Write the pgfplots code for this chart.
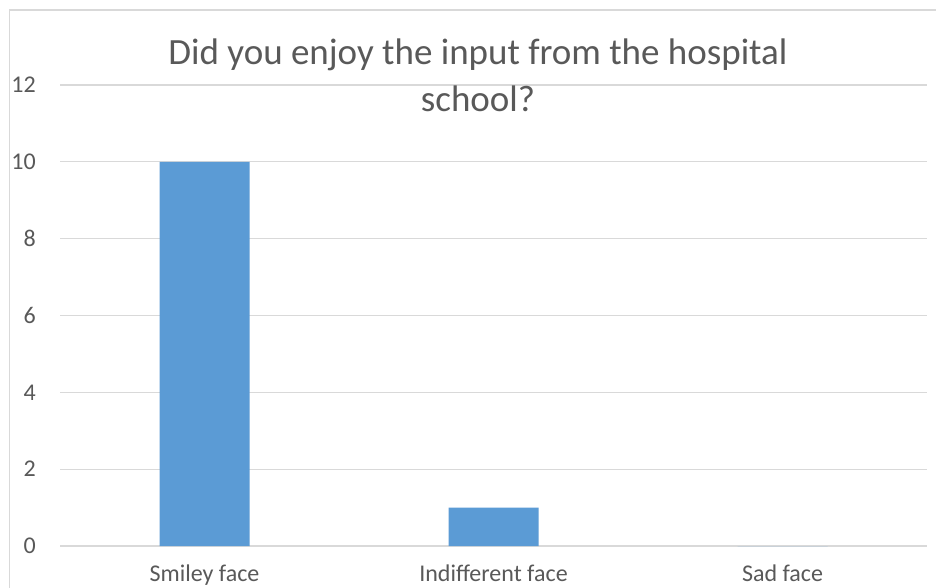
\documentclass[border=0pt]{standalone}
\usepackage{fontspec}
\setmainfont{Carlito}
\usepackage{pgfplots}
\pgfplotsset{compat=1.18}
\definecolor{barblue}{HTML}{5B9BD5}
\definecolor{gridgray}{HTML}{D9D9D9}
\definecolor{textgray}{HTML}{595959}

\begin{document}
\begin{tikzpicture}[x=1pt,y=1pt]
\useasboundingbox[fill=white] (0,0) rectangle (936,587);
\draw[gridgray, line width=1.5pt] (9.5,-5) -- (9.5,577) -- (941,577);
\begin{axis}[
    at={(60pt,41pt)}, anchor=south west,
    scale only axis, width=867pt, height=461pt,
    xmin=-0.5, xmax=2.5, ymin=0, ymax=12,
    ytick={0,2,...,12},
    xtick={0,1,2},
    xticklabels={Smiley face, Indifferent face, Sad face},
    /pgf/number format/assume math mode=true,
    axis line style={draw=none},
    major tick length=0pt,
    ymajorgrids,
    grid style={gridgray, line width=1.3pt},
    tick label style={font=\fontsize{24}{28}\selectfont, text=textgray},
    yticklabel style={anchor=east, inner sep=0pt, xshift=-24pt},
    xticklabel style={anchor=base, inner sep=0pt, yshift=-35pt},
    ybar, bar width=90pt,
]
\addplot[fill=barblue, draw=none] coordinates {(0,10) (1,1) (2,0)};
\end{axis}
\node[font=\fontsize{37}{46}\selectfont, text=textgray, anchor=base] at (478,522) {Did you enjoy the input from the hospital};
\node[font=\fontsize{37}{46}\selectfont, text=textgray, anchor=base] at (478,475) {school?};
\end{tikzpicture}
\end{document}
